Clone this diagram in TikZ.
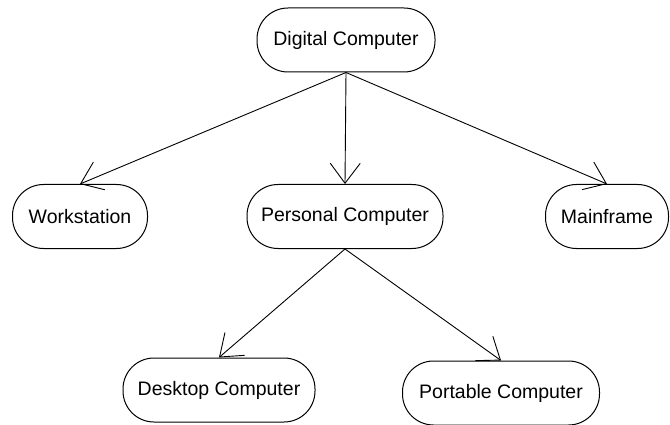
\documentclass[tikz,border=0pt]{standalone}
\usepackage{fontspec}
\setmainfont{Liberation Sans}
\usetikzlibrary{arrows.meta}
\newcommand{\lbl}{\fontsize{19.5}{22}\selectfont}

\begin{document}
\begin{tikzpicture}[x=1pt, y=-1pt,
    box/.style={draw, rounded corners=31pt, minimum height=64pt, inner sep=0pt, line width=1pt, font=\lbl},
    link/.style={-{Straight Barb[length=20pt,width=30pt]}, line width=0.9pt}]
  \useasboundingbox (0,0) rectangle (670,425);
  \node[box, minimum width=178pt] (DC) at (346,40) {Digital Computer};
  \node[box, minimum width=135pt] (WS) at (80,216.5) {Workstation};
  \node[box, minimum width=196pt] (PC) at (345,216.5) {Personal Computer};
  \node[box, minimum width=123pt] (MF) at (607,216.5) {Mainframe};
  \node[box, minimum width=192pt] (DT) at (219,390) {Desktop Computer};
  \node[box, minimum width=197pt] (PT) at (501,393) {Portable Computer};
  \foreach \i\j in {DC/WS, DC/PC, DC/MF, PC/DT, PC/PT} {
    \draw[link] (\i.south) -- (\j.north);
  }
\end{tikzpicture}
\end{document}
